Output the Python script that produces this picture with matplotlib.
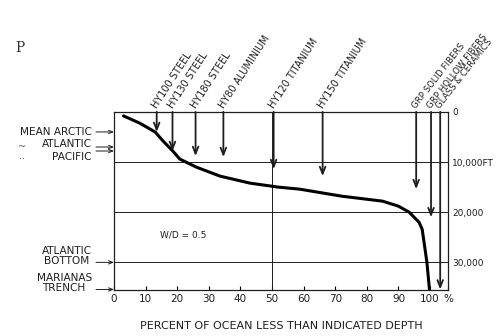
import matplotlib.pyplot as plt
from matplotlib.transforms import blended_transform_factory

# ocean depth distribution curve (percent of ocean shallower than depth)
pct = [3, 8, 13, 15.5, 18.6, 20.8, 26, 33.5, 43, 52, 58.7, 72, 85, 90, 93.4, 96.5, 97.5, 99, 99.8]
depth = [800, 2200, 4000, 5800, 7800, 9400, 11000, 12800, 14200, 15000, 15400, 16800,
         17800, 18800, 20000, 22000, 23400, 30000, 35400]

# hull materials: position along x and depth reached (W/D = 0.5)
materials = ["HY100 STEEL", "HY130 STEEL", "HY180 STEEL", "HY80 ALUMINIUM",
             "HY120 TITANIUM", "HY150 TITANIUM", "GRP SOLID FIBERS",
             "GRP HOLLOW FIBERS", "GLASS & CERAMICS"]
mat_x = [13.5, 18.5, 25.8, 34.6, 50.5, 66, 95.6, 100.3, 103.2]
mat_depth = [4000, 7800, 8800, 9000, 11400, 12800, 15400, 21000, 35400]

# reference depths on the left
ref_names = ["MEAN ARCTIC", "ATLANTIC", "PACIFIC", "ATLANTIC\nBOTTOM", "MARIANAS\nTRENCH"]
ref_depth = [4000, 7000, 7800, 30000, 35400]

ink = "#1e1e1e"
plt.rcParams['font.family'] = ['DejaVu Sans']

fig = plt.figure(figsize=(4.99, 3.36), dpi=100)
ax = fig.add_axes([0.2285, 0.137, 0.898 - 0.2285, 0.667 - 0.137])
ax.set_xlim(0, 105.7)
ax.set_ylim(35500, 0)

for d in [10000, 20000, 30000]:
    ax.axhline(d, color=ink, lw=0.7)
ax.axvline(50, color=ink, lw=0.7)

ax.plot(pct, depth, color="black", lw=2.2, solid_capstyle="round")

for i, (name, x, d) in enumerate(zip(materials, mat_x, mat_depth)):
    ax.annotate("", xy=(x, d), xytext=(x, 0),
                arrowprops=dict(arrowstyle="->,head_length=0.5,head_width=0.2",
                                color=ink, lw=1.3, shrinkA=0, shrinkB=0))
    grp = i >= 6
    ax.text(x - 0.6, -900, name, rotation=52 if grp else 57, rotation_mode="anchor",
            ha="left", va="center", fontsize=6.2 if grp else 7, color=ink, clip_on=False)

tr = blended_transform_factory(ax.transAxes, ax.transData)
text_dy = [0, 2.5, -4.5, 4.5, 4.5]
for name, d, dy in zip(ref_names, ref_depth, text_dy):
    ax.annotate("", xy=(0, d), xycoords=tr, xytext=(-13, 0), textcoords="offset points",
                arrowprops=dict(arrowstyle="->,head_length=0.3,head_width=0.12",
                                color=ink, lw=0.7, shrinkA=0, shrinkB=0))
    ax.annotate(name, xy=(0, d), xycoords=tr, xytext=(-16, dy), textcoords="offset points",
                ha="right", va="center", fontsize=7.6, color=ink, multialignment="center",
                linespacing=1.05)
# ditto marks
ax.text(-0.275, 6900, "~", transform=tr, ha="center", va="center", fontsize=7, color="#555")
ax.text(-0.275, 9400, "··", transform=tr, ha="center", va="center", fontsize=7, color="#555")

ax.text(14.5, 24500, "W/D = 0.5", fontsize=6.5, color=ink, va="center")

# axes and ticks
for s in ax.spines.values():
    s.set_color(ink)
    s.set_linewidth(0.9)
ax.set_xticks(list(range(0, 101, 10)) + [105.7])
ax.set_xticklabels([str(v) for v in range(0, 101, 10)] + ["%"], fontsize=7.5, color=ink)
ax.tick_params(axis="x", direction="in", length=3, pad=3)
ax.yaxis.tick_right()
ax.set_yticks([0, 10000, 20000, 30000])
ax.set_yticklabels(["0", "10,000FT", "20,000", "30,000"], fontsize=6.5, color=ink)
ax.tick_params(axis="y", length=0, pad=3)

ax.set_xlabel("PERCENT OF OCEAN LESS THAN INDICATED DEPTH", fontsize=8, color=ink, labelpad=12)

fig.text(0.03, 0.845, "P", fontsize=10, family="DejaVu Serif", color="#333")

fig.savefig("out.png", dpi=100, facecolor="white")
